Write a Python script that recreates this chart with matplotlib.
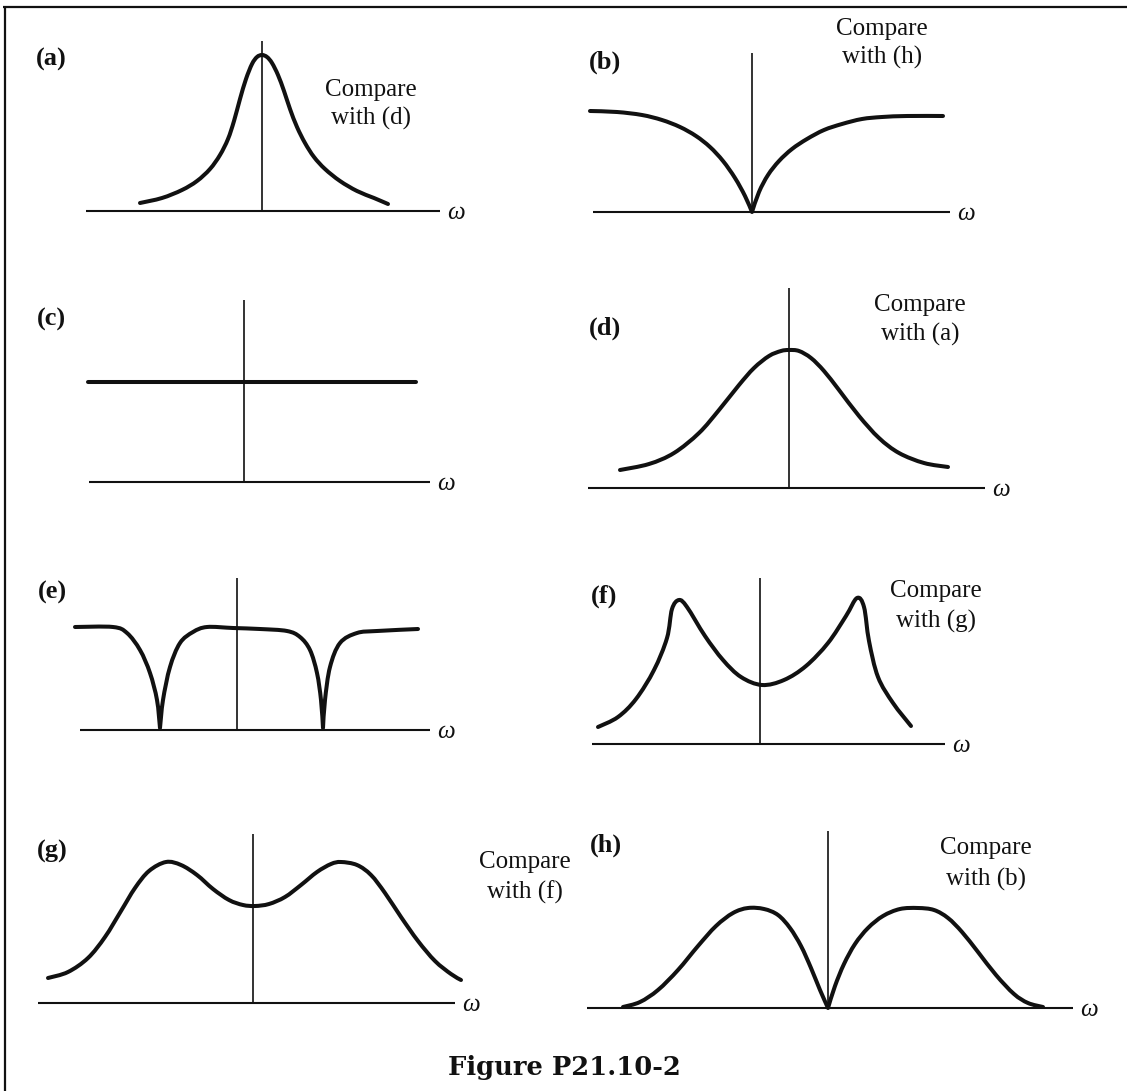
import matplotlib
matplotlib.use("Agg")
import numpy as np
import matplotlib.pyplot as plt
from matplotlib.lines import Line2D
from matplotlib.path import Path
from matplotlib.patches import PathPatch

# ---------------- data (units: pixels from each panel's origin) -------------
PANEL_LABELS = ["(a)", "(b)", "(c)", "(d)", "(e)", "(f)", "(g)", "(h)"]
COMPARE_WITH = {"(a)": "(d)", "(b)": "(h)", "(d)": "(a)", "(f)": "(g)", "(g)": "(f)", "(h)": "(b)"}
CAPTION = "Figure P21.10-2"
AXIS_LABEL = "ω"

A_W = [-122, -100, -80, -65, -52, -42, -34, -28, -22, -16, -10, -5, 0,
       5, 10, 16, 22, 28, 35, 43, 52, 63, 78, 95, 112, 126]
A_MAG = [8, 13, 21, 30, 42, 56, 72, 90, 112, 132, 147, 154, 156,
         154, 148, 136, 120, 102, 84, 68, 54, 42, 30, 20, 13, 7]

B_W = [-162, -135, -110, -90, -72, -56, -42, -29, -17, -7, 0,
       7, 16, 27, 40, 55, 72, 90, 110, 130, 155, 191]
B_MAG = [101, 100, 97, 92, 85, 76, 65, 51, 34, 16, 0,
         20, 37, 51, 63, 73, 82, 88, 93, 95, 96, 96]

C_W = [-156, 172]
C_MAG = [100, 100]

D_W = [-169, -140, -115, -90, -70, -50, -35, -20, -8, 0, 10, 22, 35, 50, 70, 90, 110, 135, 159]
D_MAG = [18, 24, 35, 55, 78, 103, 120, 132, 137, 138, 137, 130, 117, 98, 72, 50, 35, 25, 21]

E_W = [-162, -124, -110, -97, -87, -80, -77, -74, -67, -57, -44, -30, -4, 23, 50,
       63, 73, 80, 84, 86, 88, 93, 103, 120, 140, 181]
E_MAG = [103, 103, 97, 80, 57, 30, 2, 30, 63, 87, 98, 103, 102, 101, 99,
         93, 80, 57, 30, 2, 30, 63, 87, 97, 99, 101]

F_W = [-162, -142, -124, -106, -93, -88, -81, -73, -55, -37, -19, 2, 24, 46, 68,
       86, 97, 104, 109, 118, 133, 151]
F_MAG = [17, 27, 45, 74, 106, 135, 144, 137, 108, 84, 67, 59, 64, 78, 101,
         128, 146, 137, 103, 67, 41, 18]

G_W = [-205, -185, -165, -148, -132, -118, -104, -87, -72, -56, -40, -24, -10, 2, 16,
       32, 48, 64, 78, 88, 104, 118, 132, 148, 165, 182, 198, 208]
G_MAG = [25, 31, 45, 66, 92, 115, 132, 141, 138, 128, 114, 103, 98, 97, 99,
         106, 118, 131, 139, 141, 138, 128, 110, 86, 62, 42, 29, 23]

H_W = [-205, -188, -170, -150, -130, -112, -95, -80, -64, -50, -38, -27, -17, -8, 0,
       7, 16, 27, 40, 55, 72, 90, 106, 120, 134, 150, 168, 186, 200, 215]
H_MAG = [1, 6, 18, 38, 62, 82, 95, 100, 99, 93, 80, 62, 40, 18, 0,
         22, 44, 64, 80, 92, 99, 100, 98, 90, 76, 56, 33, 14, 5, 1]

CURVES = {"(a)": (A_W, A_MAG), "(b)": (B_W, B_MAG), "(c)": (C_W, C_MAG), "(d)": (D_W, D_MAG),
          "(e)": (E_W, E_MAG), "(f)": (F_W, F_MAG), "(g)": (G_W, G_MAG), "(h)": (H_W, H_MAG)}
# sample indices where the drawn curve has a sharp corner (cusp)
CUSPS = {"(b)": [10], "(e)": [6, 19], "(h)": [14]}

# ---------------- layout (figure pixels, y measured downward) ----------------
W, H = 1127, 1091
LAYOUT = {
    #       origin      base-left base-right vtop  label(x,y)     compare(x, y1, y2)
    "(a)": ((262, 211), -176, 178, 170, (-211, 152), (109, 121, 93)),
    "(b)": ((752, 212), -159, 198, 159, (-147, 150), (130, 183, 155)),
    "(c)": ((244, 482), -155, 186, 182, (-193, 163), None),
    "(d)": ((789, 488), -201, 196, 200, (-184, 160), (131, 183, 154)),
    "(e)": ((237, 730), -157, 193, 152, (-185, 138), None),
    "(f)": ((760, 744), -168, 185, 166, (-156, 148), (176, 153, 123)),
    "(g)": ((253, 1003), -215, 202, 169, (-201, 152), (272, 141, 111)),
    "(h)": ((828, 1008), -241, 245, 177, (-222, 163), (158, 160, 129)),
}

SERIF = ["Liberation Serif", "DejaVu Serif"]
INK = "#111111"


def smooth_path(xs, ys, cusps):
    """Catmull-Rom style drawing of the sampled curve, kept sharp at cusps."""
    pts = np.column_stack([xs, ys]).astype(float)
    cuts = [0] + sorted(cusps) + [len(pts) - 1]
    verts, codes = [pts[0]], [Path.MOVETO]
    for s, e in zip(cuts[:-1], cuts[1:]):
        seg = pts[s:e + 1]
        n = len(seg) - 1
        for i in range(n):
            p0 = seg[i - 1] if i > 0 else seg[i]
            p1, p2 = seg[i], seg[i + 1]
            p3 = seg[i + 2] if i + 2 <= n else seg[i + 1]
            verts += [p1 + (p2 - p0) / 6.0, p2 - (p3 - p1) / 6.0, p2]
            codes += [Path.CURVE4] * 3
    return Path(verts, codes)


fig = plt.figure(figsize=(W / 100, H / 100), dpi=100)
fig.patch.set_facecolor("white")

# frame: left and top rules
fig.add_artist(Line2D([4.5 / W, 4.5 / W], [0, 1 - 7 / H], transform=fig.transFigure,
                      color=INK, lw=1.6, solid_capstyle="butt"))
fig.add_artist(Line2D([3.5 / W, 1], [1 - 7 / H, 1 - 7 / H], transform=fig.transFigure,
                      color=INK, lw=1.6, solid_capstyle="butt"))

L, R, T, B = 260, 340, 220, 40
for key in PANEL_LABELS:
    (ox, oy), xl, xr, vtop, (lx, ly), cmp = LAYOUT[key]
    ax = fig.add_axes([(ox - L) / W, (H - oy - B) / H, (L + R) / W, (T + B) / H])
    ax.set_xlim(-L, R)
    ax.set_ylim(-B, T)
    ax.axis("off")
    ax.patch.set_alpha(0)

    ax.plot([xl, xr], [0, 0], color=INK, lw=1.5, solid_capstyle="butt")
    ax.plot([0, 0], [0, vtop], color=INK, lw=1.2, solid_capstyle="butt")
    w, mag = CURVES[key]
    ax.add_patch(PathPatch(smooth_path(w, mag, CUSPS.get(key, [])), fill=False,
                           edgecolor=INK, lw=2.9, capstyle="round", joinstyle="round"))

    ax.text(xr + 16, -2, AXIS_LABEL, family=SERIF, style="italic", fontsize=18,
            ha="center", va="center", color=INK)
    ax.text(lx, ly, key, family=SERIF, weight="bold", fontsize=19,
            ha="center", va="center", color=INK)
    if cmp is not None:
        cx, cy1, cy2 = cmp
        ax.text(cx, cy1, "Compare", family=SERIF, fontsize=18, ha="center", va="center", color=INK)
        ax.text(cx, cy2, "with " + COMPARE_WITH[key], family=SERIF, fontsize=18,
                ha="center", va="center", color=INK)

fig.text(564 / W, 1 - 1067 / H, CAPTION, family=["DejaVu Serif"], weight="bold",
         fontsize=18.5, ha="center", va="center", color=INK)

fig.savefig("out.png", dpi=100, facecolor="white")
